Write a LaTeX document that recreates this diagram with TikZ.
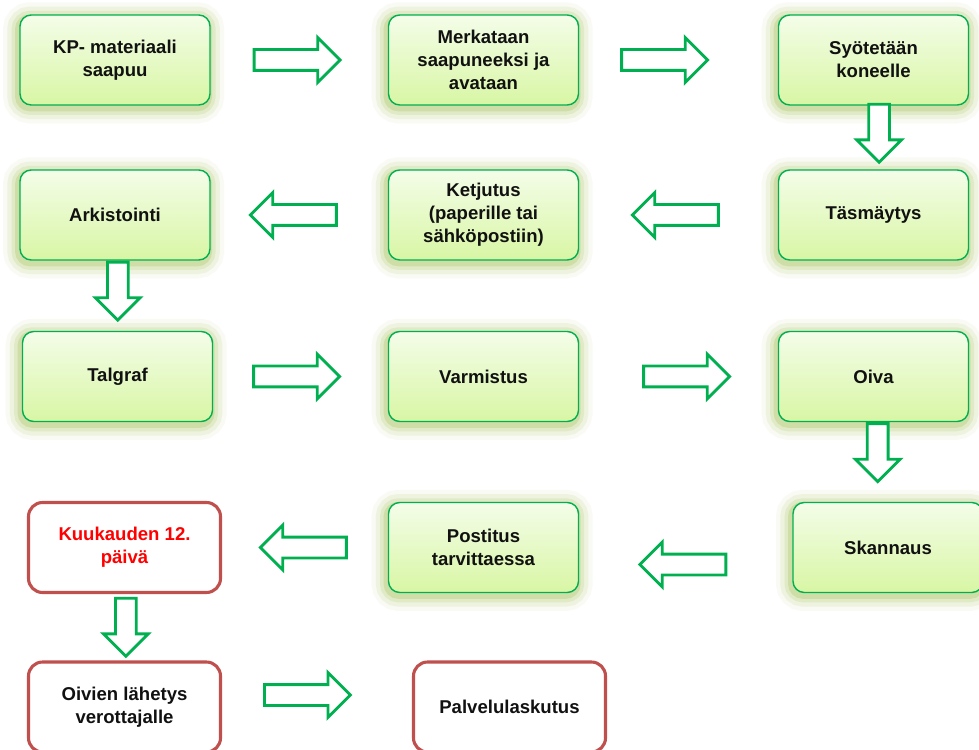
\documentclass[tikz,border=0pt]{standalone}
\usepackage{fontspec}
\setmainfont{Liberation Sans}
\usepackage{tikz}
\usetikzlibrary{shapes.arrows,positioning,calc}
\definecolor{BoxLine}{HTML}{00B050}
\definecolor{BoxTop}{HTML}{F4FDE9}
\definecolor{BoxBottom}{HTML}{D8F6A4}
\definecolor{GlowGreen}{HTML}{A8C35A}
\definecolor{ArrowGreen}{HTML}{00B050}
\definecolor{RedLine}{HTML}{C0504D}
\definecolor{TextRed}{HTML}{FF0000}
\definecolor{TextDark}{HTML}{111111}
\tikzset{
  FB/.style={rectangle,rounded corners=8pt,
             minimum width=4.75cm,minimum height=2.25cm,
             text centered,align=center,inner sep=2pt,
             font=\fontsize{13.2}{16.4}\selectfont\bfseries,text=TextDark},
  nG/.style={FB,draw=BoxLine,line width=1pt,top color=BoxTop,bottom color=BoxBottom,
             preaction={draw=GlowGreen,line width=22pt,opacity=0.07,
                        transform canvas={xshift=-1pt,yshift=-2pt}},
             preaction={draw=GlowGreen,line width=16pt,opacity=0.12,
                        transform canvas={xshift=-1pt,yshift=-2pt}},
             preaction={draw=GlowGreen,line width=10pt,opacity=0.18,
                        transform canvas={xshift=-1pt,yshift=-2pt}},
             preaction={draw=GlowGreen,line width=5pt,opacity=0.3,
                        transform canvas={xshift=-1pt,yshift=-2pt}}},
  nR/.style={FB,draw=RedLine,line width=2.2pt,fill=white,rounded corners=10pt,
             minimum width=4.8cm,minimum height=2.25cm},
  barr/.style={single arrow,draw=ArrowGreen,line width=2pt,fill=white,
               minimum height=2.15cm,inner xsep=0pt,inner ysep=0.225cm,
               single arrow head extend=0.3cm,single arrow tip angle=90},
  barrL/.style={barr,shape border rotate=180},
  barrD/.style={barr,shape border rotate=270,minimum height=1.45cm,
                inner xsep=0.225cm,inner ysep=0pt}
}
\begin{document}
\begin{tikzpicture}
  \useasboundingbox[fill=white] (0,0) rectangle (24.475,18.725);

  % first row
  \node[nG] (kp) at (2.875,17.225) {KP- materiaali\\saapuu};
  \node[nG] (merk) at (12.0875,17.225) {Merkataan\\saapuneeksi ja\\avataan};
  \node[nG] (syot) at (21.8375,17.225) {Syötetään\\koneelle};
  % second row
  \node[nG] (ark) at (2.875,13.35) {Arkistointi};
  \node[nG] (ketj) at (12.0875,13.35) {Ketjutus\\(paperille tai\\sähköpostiin)};
  \node[nG] (tasm) at (21.8375,13.35) {Täsmäytys};
  % third row
  \node[nG] (talg) at (2.9375,9.3125) {Talgraf};
  \node[nG] (varm) at (12.0875,9.3125) {Varmistus};
  \node[nG] (oiva) at (21.8375,9.3125) {Oiva};
  % fourth row
  \node[nR,text=TextRed] (kuuk) at (3.1125,5.0375) {Kuukauden 12.\\päivä};
  \node[nG] (post) at (12.0875,5.0375) {Postitus\\tarvittaessa};
  \node[nG] (skan) at (22.2,5.0375) {Skannaus};
  % last row
  \node[nR] (oiv) at (3.1125,1.05) {Oivien lähetys\\verottajalle};
  \node[nR] (palv) at (12.7375,1.05) {Palvelulaskutus};

  % block arrows
  \node[barr,right=1.05cm of kp] (a1) {};
  \node[barr,right=1.025cm of merk] (a2) {};
  \node[barrD,below=-2pt of syot,xshift=4pt] (d1) {};
  \node[barrL,left=1.45cm of tasm] (a3) {};
  \node[barrL,left=1.25cm of ketj] (a4) {};
  \node[barrD,below=0pt of ark,xshift=2pt] (d2) {};
  \node[barr,right=0.975cm of talg] (a5) {};
  \node[barr,right=1.575cm of varm] (a6) {};
  \node[barrD,below=0pt of oiva,xshift=3pt] (d3) {};
  \node[barrL,left=1.625cm of skan,yshift=-0.425cm] (a7) {};
  \node[barrL,left=1cm of post] (a8) {};
  \node[barrD,below=2pt of kuuk,xshift=1pt] (d4) {};
  \node[barr,right=1.025cm of oiv,yshift=0.3cm] (a9) {};
\end{tikzpicture}
\end{document}
